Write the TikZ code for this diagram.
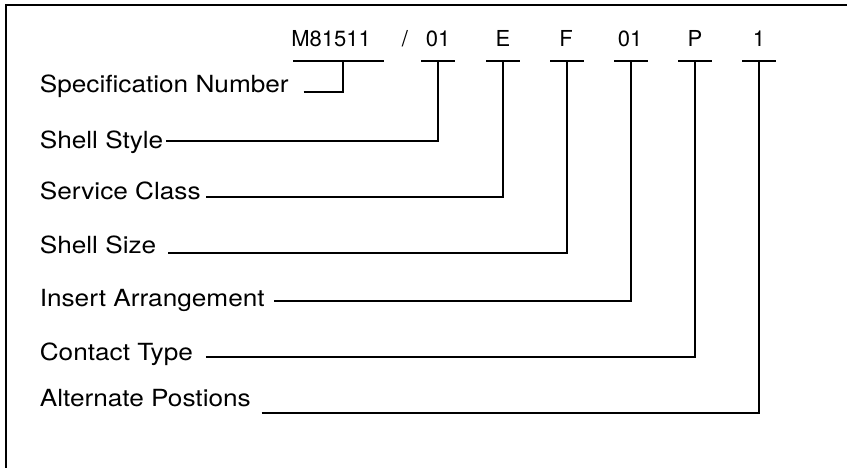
\documentclass[tikz,border=0pt]{standalone}
\usepackage{fontspec}
\setmainfont{TeX Gyre Heros}
\newfontfamily\widefont[FakeStretch=1.11]{TeX Gyre Heros}
\usepackage{tikz}
\usetikzlibrary{positioning}

\begin{document}
\begin{tikzpicture}[x=1pt,y=1pt,line width=1.6pt,
    lbl/.style={anchor=base west, inner sep=0pt, font=\widefont\fontsize{23.6}{28}\selectfont},
    code/.style={anchor=base, inner sep=0pt, font=\fontsize{22}{26}\selectfont}]

  \useasboundingbox (0,0) rectangle (847,468);
  % frame (right and bottom sides fall outside the page)
  \draw (6,0) -- (6,463) -- (847,463);

  % the part number
  \node[code] (M)  at (331,421) {M81511};
  \node[code] (sl) at (405,421) {/};
  \node[code] (C2) at (438,421) {01};
  \node[code] (C3) at (503,421) {E};
  \node[code] (C4) at (566,421) {F};
  \node[code] (C5) at (630,421) {01};
  \node[code] (C6) at (695,421) {P};
  \node[code] (C7) at (759,421) {1};

  \coordinate (B1) at (343,407);
  \coordinate (B2) at (438,407);
  \coordinate (B3) at (503,407);
  \coordinate (B4) at (567,407);
  \coordinate (B5) at (631,407);
  \coordinate (B6) at (695,407);
  \coordinate (B7) at (759,407);

  \draw ([xshift=-50pt]B1) -- ([xshift=41pt]B1);
  \draw ([xshift=-17pt]B2) -- ([xshift=17pt]B2);
  \draw ([xshift=-17pt]B3) -- ([xshift=17pt]B3);
  \draw ([xshift=-17pt]B4) -- ([xshift=17pt]B4);
  \draw ([xshift=-17pt]B5) -- ([xshift=17pt]B5);
  \draw ([xshift=-17pt]B6) -- ([xshift=17pt]B6);
  \draw ([xshift=-17pt]B7) -- ([xshift=17pt]B7);

  % the fields
  \node[lbl] (L1) at (39,375) {Specification Number};
  \node[lbl] (L2) at (39,319) {Shell Style};
  \node[lbl] (L3) at (39,268) {Service Class};
  \node[lbl] (L4) at (39,214.5) {Shell Size};
  \node[lbl] (L5) at (39,161) {Insert Arrangement};
  \node[lbl] (L6) at (39,107) {Contact Type};
  \node[lbl] (L7) at (39,61)  {Alternate Postions};

  \draw ([xshift=14pt,yshift=1pt]L1.base east) -| (B1);
  \draw ([xshift=2pt,yshift=8pt]L2.base east) -| (B2);
  \draw ([xshift=5pt,yshift=3pt]L3.base east) -| (B3);
  \draw ([xshift=11pt,yshift=0.5pt]L4.base east) -| (B4);
  \draw ([xshift=9pt,yshift=6pt]L5.base east) -| (B5);
  \draw ([xshift=12pt,yshift=4pt]L6.base east) -| (B6);
  \draw ([xshift=10pt,yshift=-6pt]L7.base east) -| (B7);
\end{tikzpicture}
\end{document}
